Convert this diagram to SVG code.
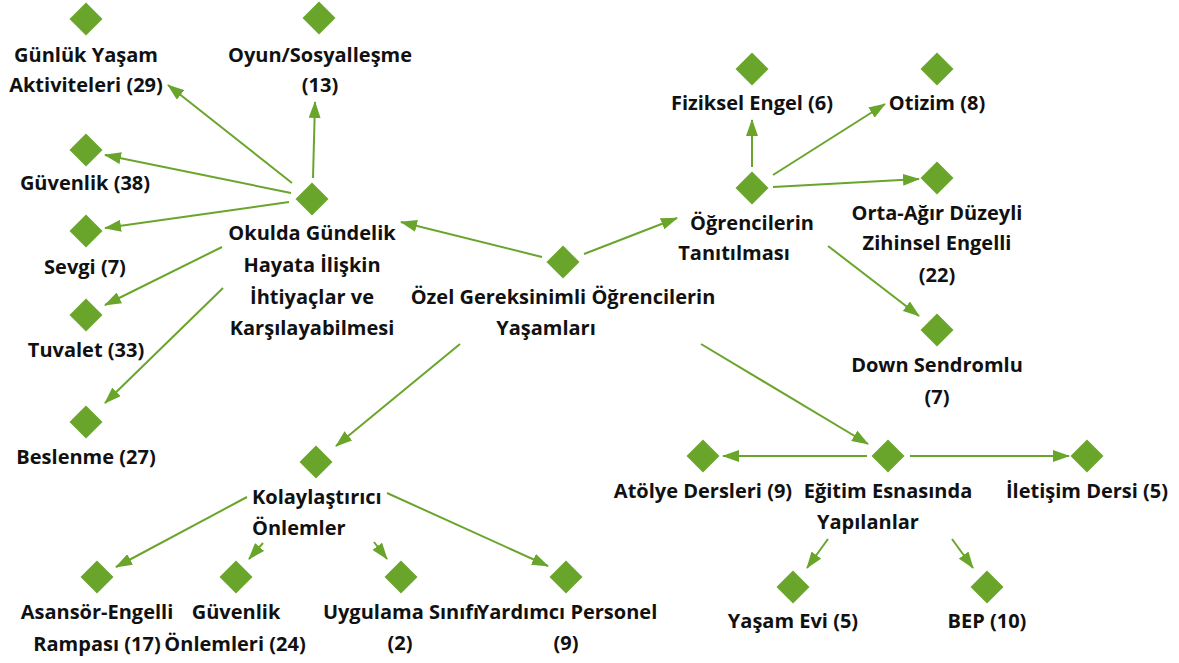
<svg xmlns="http://www.w3.org/2000/svg" width="1179" height="663" viewBox="0 0 1179 663">
<style>
.d{fill:#6aa52b}
.t{font-family:"Open Sans","Noto Sans",sans-serif;font-weight:700;font-size:20px;fill:#111;text-anchor:middle}
.s{text-anchor:start}
.c line{stroke:#6aa52b;stroke-width:2;marker-end:url(#ah)}
</style>
<defs>
<marker id="ah" markerUnits="userSpaceOnUse" markerWidth="17" markerHeight="12" refX="16" refY="6" orient="auto">
<path d="M0,0 L17,6 L0,12 z" fill="#6aa52b"/>
</marker>
<path id="dm" d="M0,-16.5 L16.5,0 L0,16.5 L-16.5,0 z"/>
</defs>
<rect width="1179" height="663" fill="#fff"/>
<g class="c">
<line x1="292" y1="183" x2="168" y2="85"/>
<line x1="313" y1="178" x2="315" y2="102"/>
<line x1="291" y1="193" x2="105" y2="155"/>
<line x1="289" y1="202" x2="105" y2="228"/>
<line x1="222" y1="247" x2="105" y2="305"/>
<line x1="223" y1="288" x2="105" y2="403"/>
<line x1="542" y1="257" x2="401" y2="222"/>
<line x1="584" y1="254" x2="677" y2="218"/>
<line x1="460" y1="344" x2="336" y2="446"/>
<line x1="701" y1="344" x2="868" y2="444"/>
<line x1="752" y1="167" x2="752" y2="120"/>
<line x1="773" y1="175" x2="885" y2="104"/>
<line x1="773" y1="187" x2="919" y2="179"/>
<line x1="828" y1="246" x2="919" y2="316"/>
<line x1="867" y1="456" x2="723" y2="456"/>
<line x1="910" y1="456" x2="1069" y2="456"/>
<line x1="828" y1="539" x2="807" y2="568"/>
<line x1="952" y1="539" x2="973" y2="568"/>
<line x1="247" y1="497" x2="116" y2="567"/>
<line x1="263" y1="543" x2="249" y2="559"/>
<line x1="374" y1="542" x2="387" y2="559"/>
<line x1="387" y1="493" x2="548" y2="566"/>
</g>
<g id="n-center"><use href="#dm" class="d" x="563" y="262"/><text class="t" x="563" y="304">Özel Gereksinimli Öğrencilerin</text><text class="t" x="546" y="335">Yaşamları</text></g>
<g id="n-okulda"><use href="#dm" class="d" x="312" y="199"/><text class="t" x="312" y="240">Okulda Gündelik</text><text class="t" x="312" y="272">Hayata İlişkin</text><text class="t" x="312" y="304">İhtiyaçlar ve</text><text class="t" x="312" y="335">Karşılayabilmesi</text></g>
<g id="n-gunluk"><use href="#dm" class="d" x="86" y="19"/><text class="t" x="86" y="62">Günlük Yaşam</text><text class="t" x="86" y="92">Aktiviteleri (29)</text></g>
<g id="n-oyun"><use href="#dm" class="d" x="319" y="18"/><text class="t" x="320" y="62">Oyun/Sosyalleşme</text><text class="t" x="320" y="92">(13)</text></g>
<g id="n-guvenlik"><use href="#dm" class="d" x="86" y="150"/><text class="t" x="85" y="190">Güvenlik (38)</text></g>
<g id="n-sevgi"><use href="#dm" class="d" x="86" y="231"/><text class="t" x="85" y="274">Sevgi (7)</text></g>
<g id="n-tuvalet"><use href="#dm" class="d" x="86" y="315"/><text class="t" x="86" y="357">Tuvalet (33)</text></g>
<g id="n-beslenme"><use href="#dm" class="d" x="86" y="422"/><text class="t" x="86" y="464">Beslenme (27)</text></g>
<g id="n-ogrenci"><use href="#dm" class="d" x="752" y="188"/><text class="t" x="752" y="230">Öğrencilerin</text><text class="t" x="734" y="260">Tanıtılması</text></g>
<g id="n-fiziksel"><use href="#dm" class="d" x="752" y="69"/><text class="t" x="752" y="110">Fiziksel Engel (6)</text></g>
<g id="n-otizim"><use href="#dm" class="d" x="937" y="69"/><text class="t" x="937" y="110">Otizim (8)</text></g>
<g id="n-orta"><use href="#dm" class="d" x="937" y="178"/><text class="t" x="937" y="220">Orta-Ağır Düzeyli</text><text class="t" x="937" y="250">Zihinsel Engelli</text><text class="t" x="937" y="282">(22)</text></g>
<g id="n-down"><use href="#dm" class="d" x="937" y="330"/><text class="t" x="937" y="372">Down Sendromlu</text><text class="t" x="937" y="404">(7)</text></g>
<g id="n-egitim"><use href="#dm" class="d" x="888" y="456"/><text class="t" x="888" y="498">Eğitim Esnasında</text><text class="t" x="868" y="529">Yapılanlar</text></g>
<g id="n-atolye"><use href="#dm" class="d" x="703" y="456"/><text class="t" x="703" y="498">Atölye Dersleri (9)</text></g>
<g id="n-iletisim"><use href="#dm" class="d" x="1087" y="456"/><text class="t" x="1087" y="498">İletişim Dersi (5)</text></g>
<g id="n-yasam"><use href="#dm" class="d" x="793" y="587"/><text class="t" x="793" y="628">Yaşam Evi (5)</text></g>
<g id="n-bep"><use href="#dm" class="d" x="987" y="587"/><text class="t" x="987" y="628">BEP (10)</text></g>
<g id="n-kolay"><use href="#dm" class="d" x="316" y="462"/><text class="t s" x="252" y="504">Kolaylaştırıcı</text><text class="t s" x="252" y="535">Önlemler</text></g>
<g id="n-asansor"><use href="#dm" class="d" x="97" y="577"/><text class="t" x="97" y="619">Asansör-Engelli</text><text class="t" x="97" y="651">Rampası (17)</text></g>
<g id="n-guvonlem"><use href="#dm" class="d" x="236" y="577"/><text class="t" x="236" y="619">Güvenlik</text><text class="t" x="235" y="651">Önlemleri (24)</text></g>
<g id="n-uygulama"><use href="#dm" class="d" x="401" y="577"/><text class="t" x="401" y="619">Uygulama Sınıfı</text><text class="t" x="400" y="650">(2)</text></g>
<g id="n-yardimci"><use href="#dm" class="d" x="566" y="577"/><text class="t" x="567" y="619">Yardımcı Personel</text><text class="t" x="566" y="650">(9)</text></g>
</svg>
